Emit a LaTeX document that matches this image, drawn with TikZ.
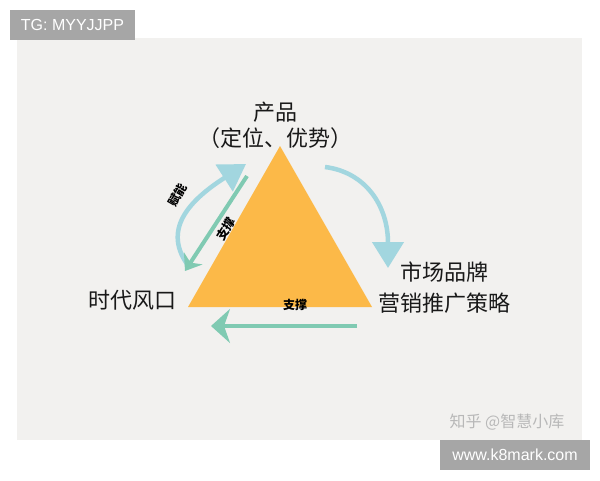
\documentclass[tikz,border=0pt]{standalone}
\usepackage{fontspec}
\setmainfont{Liberation Sans}
\newfontfamily\cjk{Noto Sans CJK SC}
\usetikzlibrary{positioning, arrows.meta}
\definecolor{panelgray}{RGB}{242,241,239}
\definecolor{taggray}{RGB}{166,166,166}
\definecolor{triorange}{RGB}{252,185,72}
\definecolor{skyblue}{RGB}{162,214,223}
\definecolor{mintgreen}{RGB}{128,202,178}
\tikzset{%
  pyramid/.style    = {fill = triorange},
  bigtext/.style    = {font = \cjk\fontsize{22}{26}\selectfont, text = black!90, inner sep = 0pt},
  pentext/.style    = {font = \cjk\bfseries\fontsize{12}{14}\selectfont, text = black, inner sep = 0pt},
  tagbox/.style     = {fill = taggray, text = white, inner sep = 0pt,
    font = \fontsize{16}{18}\selectfont}, % grey tag
  bluearrow/.style  = {draw = skyblue, line width = 4.5pt,
    -{Triangle[length = 26pt, width = 31pt]}},
  greenarrow/.style = {draw = mintgreen, line width = 4pt}
}

\begin{document}
\begin{tikzpicture}[x = 1pt, y = -1pt]
\useasboundingbox (0,0) rectangle (600,480);
%panel and tags
\fill[panelgray] (17,38) rectangle (582,440);
\node[tagbox, minimum width = 125pt, minimum height = 30pt] (tg) at (72.5,25) {TG: MYYJJPP};
\node[tagbox, minimum width = 150pt, minimum height = 30pt] (k8) at (515,455) {www.k8mark.com};
\node[font = \cjk\fontsize{16}{18}\selectfont, text = black!28, inner sep = 0pt] (zhihu) at (507,422) {知乎 @智慧小库};
%triangle
\coordinate (top) at (280,146);
\coordinate (bl) at (188,307);
\coordinate (br) at (372,307);
\fill[pyramid] (top) -- (bl) -- (br) -- cycle;
%lines
\coordinate (lbTail) at (190,268);
\coordinate (lbTip) at (246,164);
\draw[bluearrow] (lbTail) .. controls (160,230) and (190,200) .. (lbTip);
\coordinate (rbTail) at (325,167);
\coordinate (rbTip) at (388,268);
\draw[bluearrow] (rbTail) .. controls (365,172) and (388,205) .. (rbTip);
\coordinate (lgTop) at (247,176);
\coordinate (lgTip) at (185,271);
\draw[greenarrow, -{Stealth[length = 15pt, width = 22pt, inset = 5pt]}] (lgTop) -- (lgTip);
\coordinate (bgTail) at (357,326);
\coordinate (bgTip) at (211,326);
\draw[greenarrow, -{Stealth[length = 19pt, width = 34pt, inset = 6pt]}] (bgTail) -- (bgTip);
%labels
\node[bigtext] (prod) at (275,112) {产品};
\node[bigtext] (pos) at (275,138) {（定位、优势）};
\node[bigtext] (wind) at (132,300) {时代风口};
\node[bigtext] (brand) at (444,272) {市场品牌};
\node[bigtext] (mkt) at (444,303) {营销推广策略};
\node[pentext, rotate = 60] (funeng) at (178,195) {赋能};
\node[pentext, rotate = 57] (zcLeft) at (226,229) {支撑};
\node[pentext] (zcBase) at (295,305) {支撑};
\end{tikzpicture}
\end{document}
